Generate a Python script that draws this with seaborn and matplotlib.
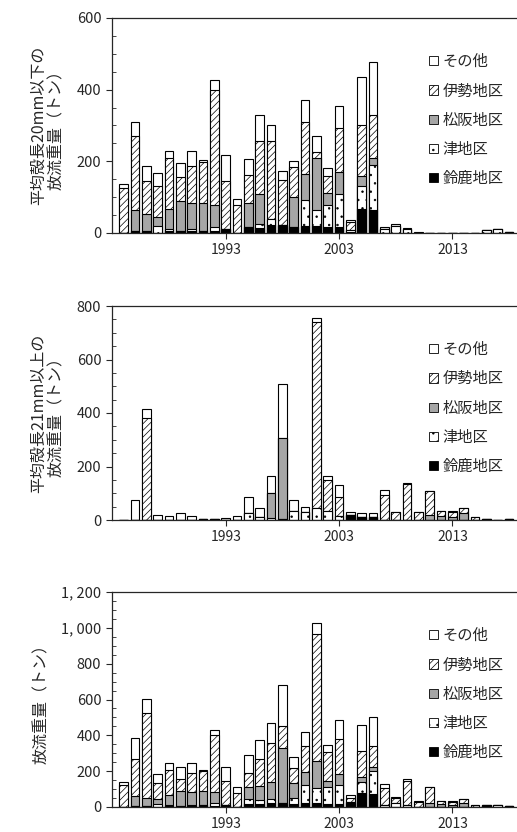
import numpy as np
import pandas as pd
import matplotlib
matplotlib.use("Agg")
import matplotlib.pyplot as plt
import seaborn as sns
from matplotlib.patches import Patch
from matplotlib.ticker import MultipleLocator, FuncFormatter

sns.set_style("ticks")
plt.rcParams['font.family'] = ['Noto Sans CJK JP', 'DejaVu Sans']
plt.rcParams['hatch.linewidth'] = 0.5

years = list(range(1984, 2019))
# panel 1: <=20mm  (suzuka, tsu, matsusaka, ise, other) values per year
p1_suz = [0,5,5,0,5,5,5,6,5,12,0,18,15,22,22,17,20,20,17,17,3,68,63,0,0,0,0,0,0,0,0,0,0,0,0]
p1_tsu = [0,0,0,19,5,0,5,0,13,0,0,0,10,16,0,0,71,43,61,91,5,62,127,10,20,10,0,0,0,0,0,0,8,11,4]
p1_mat = [0,58,48,25,57,84,74,78,60,0,0,66,83,0,0,83,74,147,33,62,0,28,20,0,0,0,0,0,0,0,0,0,0,0,0]
p1_ise = [125,207,91,88,142,67,104,114,320,133,78,77,150,220,126,84,145,16,47,123,22,144,120,0,0,0,0,0,0,0,0,0,0,0,0]
p1_oth = [12,40,44,36,21,40,42,5,29,73,17,45,72,44,25,18,60,46,23,62,5,133,148,7,5,4,3,0,0,0,0,0,0,0,0]
# panel 2: >=21mm
p2_suz = [0,0,0,0,0,0,0,3,3,0,0,0,0,0,3,0,0,0,0,0,20,12,12,0,0,0,0,0,0,0,0,0,5,0,3]
p2_tsu = [0,0,0,0,0,0,0,0,0,0,0,28,12,8,0,35,30,45,35,15,0,0,0,0,0,0,0,0,0,0,0,0,0,0,0]
p2_mat = [0,0,0,0,0,0,0,0,0,0,0,0,0,92,302,0,0,0,0,0,0,0,0,0,0,0,0,20,15,10,25,0,0,0,0]
p2_ise = [0,0,380,0,0,0,0,0,0,0,0,0,0,0,0,0,0,695,115,70,0,0,0,95,30,135,30,90,20,20,20,10,0,0,0]
p2_oth = [0,75,35,18,15,25,15,0,0,7,14,57,33,65,205,40,20,15,15,45,10,13,13,17,0,5,0,0,0,2,0,0,0,0,0]
cats = ["その他", "伊勢地区", "松阪地区", "津地区", "鈴鹿地区"]

def arr(a): return np.array(a, dtype=float)
P1 = [arr(p1_suz), arr(p1_tsu), arr(p1_mat), arr(p1_ise), arr(p1_oth)]
P2 = [arr(p2_suz), arr(p2_tsu), arr(p2_mat), arr(p2_ise), arr(p2_oth)]
P3 = [a + b for a, b in zip(P1, P2)]

styles = [  # suzuka, tsu, matsusaka, ise, other
    dict(color="black", hatch=None),
    dict(color="white", hatch=".."),
    dict(color="#a6a6a6", hatch=None),
    dict(color="white", hatch="/////"),
    dict(color="white", hatch=None),
]

fig = plt.figure(figsize=(5.17, 8.32), dpi=100)
axes_pos = [
    [0.216, 1 - 233/832, 0.784, 215/832],
    [0.216, 1 - 520/832, 0.784, 214/832],
    [0.216, 1 - 807/832, 0.784, 215/832],
]
ylims = [600, 800, 1200]
ylabels = ["平均殻長20mm以下の\n放流重量（トン）", "平均殻長21mm以上の\n放流重量（トン）", "放流重量（トン）"]
ystep = [200, 200, 200]
ystr = [str(y) for y in years]

for k, (data, pos) in enumerate(zip([P1, P2, P3], axes_pos)):
    ax = fig.add_axes(pos)
    cums = np.cumsum(np.vstack(data), axis=0)
    for i in range(4, -1, -1):
        df = pd.DataFrame({"year": ystr, "v": cums[i]})
        sns.barplot(data=df, x="year", y="v", order=ystr, ax=ax, color=styles[i]["color"],
                    saturation=1, width=0.75, errorbar=None, edgecolor="black",
                    linewidth=0.8, hatch=styles[i]["hatch"])
    ax.set_xlim(-1.06, 34.7)
    ax.set_ylim(0, ylims[k])
    ax.yaxis.set_major_locator(MultipleLocator(ystep[k]))
    ax.yaxis.set_minor_locator(MultipleLocator(50))
    if k == 2:
        ax.yaxis.set_major_formatter(FuncFormatter(lambda v, p: f"{int(v):,}".replace(",", ", ")))
    ax.set_xticks([9, 19, 29])
    ax.set_xticklabels(["1993", "2003", "2013"], fontsize=10)
    ax.tick_params(axis="y", labelsize=10.5, direction="out", length=4)
    ax.tick_params(axis="y", which="minor", direction="in", length=3)
    ax.tick_params(axis="x", length=4)
    ax.set_xlabel("")
    ax.set_ylabel(ylabels[k], fontsize=11.5, labelpad=8, linespacing=1.1)
    ax.spines["right"].set_visible(False)
    ax.spines["top"].set_visible(True)
    for s in ax.spines.values():
        s.set_linewidth(0.9)
    handles = [Patch(facecolor=styles[i]["color"], hatch=styles[i]["hatch"], edgecolor="black",
                     linewidth=0.6, label=cats[4 - i]) for i in range(4, -1, -1)]
    ax.legend(handles=handles, loc="upper right", bbox_to_anchor=(1.0, 0.9), frameon=False,
              fontsize=11, handlelength=0.55, handleheight=0.55, handletextpad=0.3, labelspacing=0.8)

fig.savefig("out.png", dpi=100)
